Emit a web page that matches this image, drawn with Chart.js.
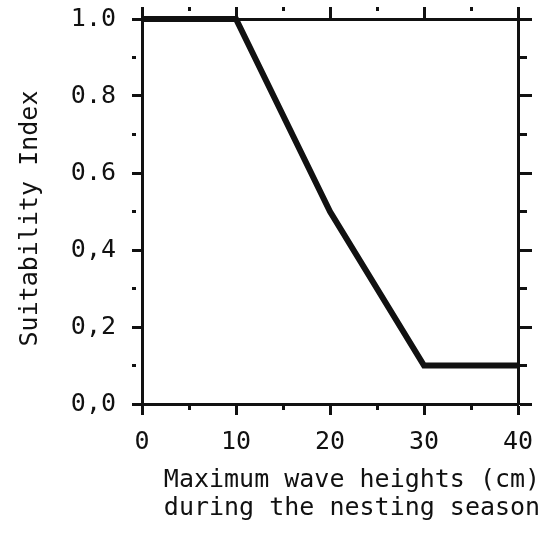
<!DOCTYPE html>
<html>
<head>
<meta charset="utf-8">
<script src="https://cdn.jsdelivr.net/npm/chart.js@4.4.1/dist/chart.umd.min.js"></script>
<style>
  html, body { margin: 0; padding: 0; background: #fff; }
</style>
</head>
<body>
<canvas id="chart" width="548" height="535"></canvas>
<script>
// curve: suitability index vs. maximum wave height
const waveHeights = [0, 10, 20, 30, 40];
const suitability = [1.0, 1.0, 0.5, 0.1, 0.1];

// tick labels (major ticks only, as printed)
const xTickLabels = ['0', '10', '20', '30', '40'];
const yTickLabels = ['0,0', '0,2', '0,4', '0.6', '0.8', '1.0'];

const yTitle = 'Suitability Index';
const xTitle = ['Maximum wave heights (cm)', 'during the nesting season'];

const ink = '#111';
const monoFont = { family: '"DejaVu Sans Mono", monospace', size: 25 };

// minor ticks are drawn short by dashing the tick line
const minorDash = len => ctx => (ctx.index % 2 === 1 ? [len, 60] : []);

// fixed box size, no label overhang padding
const fixSize = (w, h) => s => {
    if (w !== null) s.width = w;
    if (h !== null) s.height = h;
    s.paddingTop = s.paddingBottom = s.paddingLeft = s.paddingRight = 0;
};

const axisTitles = {
    id: 'axisTitles',
    afterDraw(chart) {
        const { ctx, chartArea } = chart;
        ctx.save();
        ctx.fillStyle = ink;
        ctx.font = '25px "DejaVu Sans Mono", monospace';
        ctx.textAlign = 'center';
        ctx.textBaseline = 'alphabetic';
        const cx = (chartArea.left + chartArea.right) / 2 + 22;
        ctx.fillText(xTitle[0], cx, 487);
        ctx.fillText(xTitle[1], cx, 515);
        ctx.translate(37, (chartArea.top + chartArea.bottom) / 2 + 7);
        ctx.rotate(-Math.PI / 2);
        ctx.fillText(yTitle, 0, 0);
        ctx.restore();
    }
};

new Chart(document.getElementById('chart'), {
    type: 'line',
    data: {
        datasets: [{
            data: waveHeights.map((x, i) => ({ x, y: suitability[i] })),
            borderColor: ink,
            borderWidth: 6,
            pointRadius: 0,
            tension: 0,
            clip: false
        }]
    },
    options: {
        responsive: false,
        animation: false,
        events: [],
        layout: { padding: 0 },
        plugins: { legend: { display: false }, tooltip: { enabled: false } },
        scales: {
            x: {
                type: 'linear', position: 'bottom', min: 0, max: 40,
                afterFit: fixSize(null, 131),
                border: { display: true, color: ink, width: 3 },
                grid: { drawOnChartArea: false, tickLength: 11, tickColor: ink, tickWidth: 3, tickBorderDash: minorDash(4) },
                ticks: {
                    stepSize: 5, autoSkip: false, maxRotation: 0, padding: 12,
                    color: ink, font: monoFont,
                    callback: (v, i) => (i % 2 === 0 ? xTickLabels[i / 2] : '')
                }
            },
            xTop: {
                type: 'linear', position: 'top', min: 0, max: 40,
                afterFit: fixSize(null, 19),
                border: { display: true, color: ink, width: 3 },
                grid: { drawOnChartArea: false, tickLength: 12, tickColor: ink, tickWidth: 3, tickBorderDash: minorDash(4) },
                ticks: { stepSize: 5, autoSkip: false, display: false }
            },
            y: {
                type: 'linear', position: 'left', min: 0, max: 1,
                afterFit: fixSize(142, null),
                border: { display: true, color: ink, width: 3 },
                grid: { drawOnChartArea: false, tickLength: 10, tickColor: ink, tickWidth: 3, tickBorderDash: minorDash(4) },
                ticks: {
                    stepSize: 0.1, autoSkip: false, padding: 16,
                    color: ink, font: monoFont,
                    callback: (v, i) => (i % 2 === 0 ? yTickLabels[i / 2] : '')
                }
            },
            yRight: {
                type: 'linear', position: 'right', min: 0, max: 1,
                afterFit: fixSize(30, null),
                border: { display: true, color: ink, width: 3 },
                grid: { drawOnChartArea: false, tickLength: 14, tickColor: ink, tickWidth: 3, tickBorderDash: minorDash(7) },
                ticks: { stepSize: 0.1, autoSkip: false, display: false }
            }
        }
    },
    plugins: [axisTitles]
});
</script>
</body>
</html>
